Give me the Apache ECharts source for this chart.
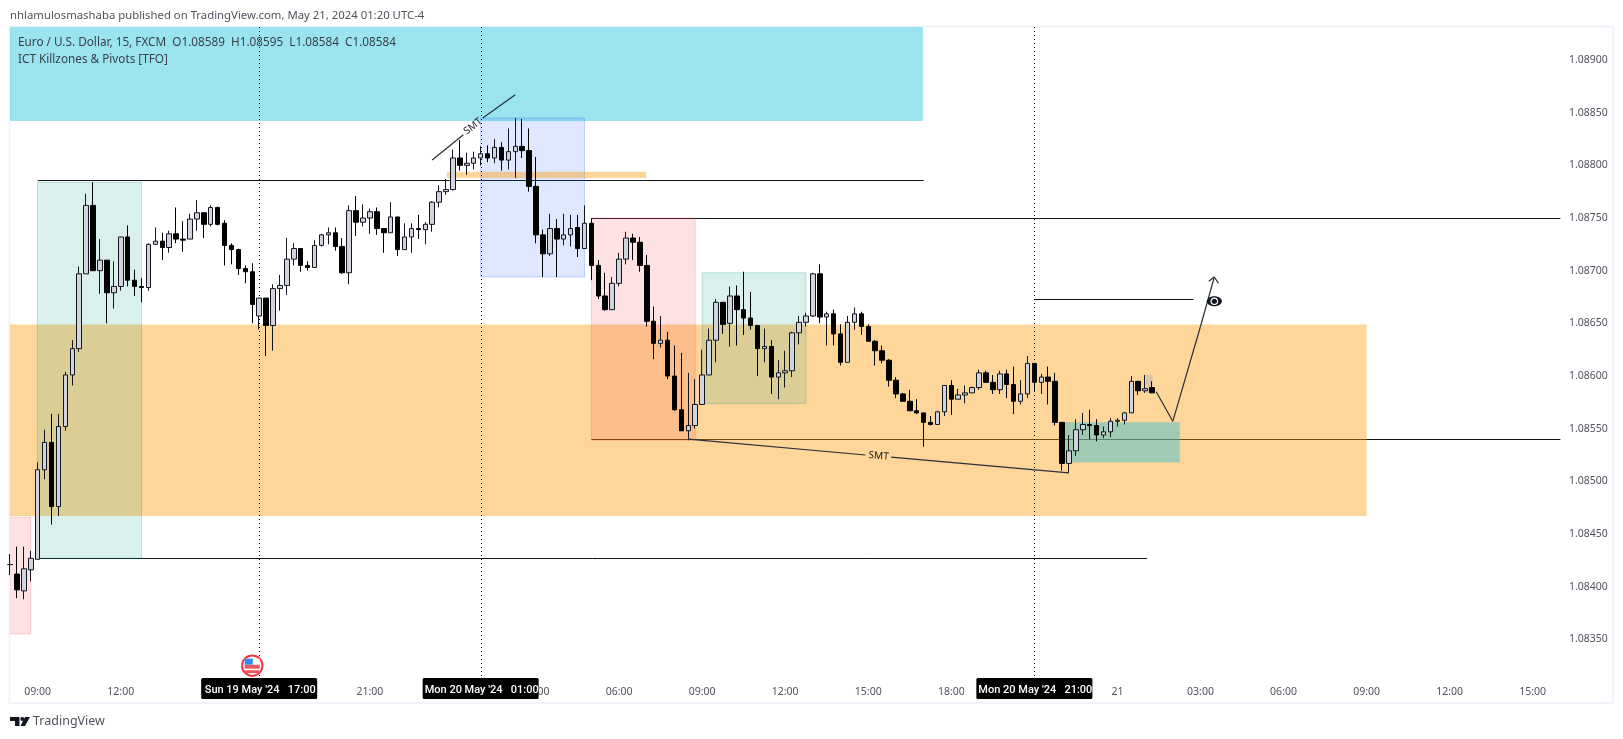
<!DOCTYPE html>
<html><head><meta charset="utf-8">
<style>html,body{margin:0;padding:0;background:#fff}#c{width:1623px;height:739px}</style>
<script src="https://cdn.jsdelivr.net/npm/echarts@6/dist/echarts.min.js"></script>
</head><body><div id="c"></div>
<script>
const FONT = '"Noto Sans", sans-serif';
const firstIndex = -4; // candle index; 0 = Fri 09:00, one step = 15 minutes
const opens = [1.08421,1.08412,1.08396,1.08416,1.08426,1.08511,1.08537,1.08476,1.08552,1.08601,1.08626,1.08697,1.08762,1.08700,1.08710,1.08679,1.08685,1.08732,1.08691,1.08685,1.08684,1.08725,1.08728,1.08722,1.08735,1.08730,1.08730,1.08749,1.08755,1.08744,1.08760,1.08745,1.08724,1.08720,1.08702,1.08699,1.08657,1.08674,1.08648,1.08683,1.08686,1.08711,1.08721,1.08705,1.08703,1.08724,1.08734,1.08736,1.08723,1.08698,1.08757,1.08746,1.08750,1.08756,1.08740,1.08736,1.08751,1.08720,1.08732,1.08740,1.08739,1.08744,1.08765,1.08775,1.08777,1.08807,1.08800,1.08802,1.08807,1.08811,1.08807,1.08817,1.08805,1.08813,1.08818,1.08814,1.08780,1.08734,1.08716,1.08740,1.08730,1.08734,1.08741,1.08721,1.08745,1.08705,1.08676,1.08663,1.08688,1.08711,1.08731,1.08727,1.08705,1.08652,1.08631,1.08634,1.08600,1.08568,1.08548,1.08553,1.08573,1.08601,1.08634,1.08670,1.08650,1.08676,1.08663,1.08655,1.08648,1.08626,1.08628,1.08599,1.08603,1.08605,1.08641,1.08651,1.08657,1.08697,1.08656,1.08659,1.08640,1.08613,1.08651,1.08659,1.08647,1.08633,1.08624,1.08615,1.08596,1.08583,1.08576,1.08567,1.08565,1.08556,1.08554,1.08566,1.08591,1.08578,1.08582,1.08584,1.08589,1.08603,1.08594,1.08587,1.08602,1.08592,1.08576,1.08583,1.08612,1.08594,1.08599,1.08595,1.08556,1.08517,1.08529,1.08549,1.08554,1.08553,1.08544,1.08547,1.08557,1.08558,1.08565,1.08595,1.08586,1.08589];
const highs = [1.08431,1.08438,1.08438,1.08434,1.08518,1.08549,1.08564,1.08564,1.08604,1.08634,1.08704,1.08773,1.08784,1.08730,1.08710,1.08709,1.08732,1.08743,1.08701,1.08693,1.08726,1.08741,1.08736,1.08738,1.08760,1.08747,1.08754,1.08767,1.08755,1.08762,1.08761,1.08748,1.08726,1.08721,1.08705,1.08707,1.08674,1.08674,1.08687,1.08696,1.08731,1.08726,1.08721,1.08709,1.08729,1.08735,1.08741,1.08741,1.08731,1.08762,1.08771,1.08763,1.08759,1.08760,1.08740,1.08765,1.08751,1.08745,1.08745,1.08753,1.08746,1.08766,1.08781,1.08787,1.08815,1.08824,1.08812,1.08813,1.08818,1.08819,1.08825,1.08822,1.08835,1.08845,1.08844,1.08835,1.08808,1.08739,1.08754,1.08749,1.08754,1.08753,1.08753,1.08762,1.08750,1.08710,1.08698,1.08694,1.08717,1.08737,1.08735,1.08732,1.08715,1.08666,1.08657,1.08642,1.08629,1.08622,1.08603,1.08597,1.08625,1.08645,1.08673,1.08670,1.08685,1.08686,1.08699,1.08680,1.08648,1.08645,1.08634,1.08615,1.08624,1.08642,1.08657,1.08660,1.08698,1.08706,1.08661,1.08663,1.08649,1.08657,1.08665,1.08661,1.08649,1.08634,1.08629,1.08616,1.08599,1.08584,1.08587,1.08578,1.08565,1.08562,1.08567,1.08591,1.08596,1.08588,1.08591,1.08590,1.08606,1.08605,1.08601,1.08605,1.08606,1.08609,1.08596,1.08619,1.08612,1.08602,1.08609,1.08603,1.08556,1.08544,1.08559,1.08565,1.08568,1.08559,1.08552,1.08560,1.08560,1.08566,1.08600,1.08595,1.08601,1.08595];
const lows = [1.08411,1.08389,1.08388,1.08405,1.08426,1.08502,1.08459,1.08467,1.08548,1.08591,1.08623,1.08697,1.08700,1.08678,1.08650,1.08664,1.08681,1.08685,1.08676,1.08670,1.08681,1.08725,1.08710,1.08717,1.08726,1.08718,1.08730,1.08738,1.08731,1.08742,1.08743,1.08705,1.08706,1.08696,1.08688,1.08650,1.08644,1.08619,1.08624,1.08662,1.08677,1.08705,1.08699,1.08700,1.08703,1.08723,1.08725,1.08719,1.08697,1.08687,1.08733,1.08742,1.08735,1.08734,1.08717,1.08736,1.08714,1.08720,1.08717,1.08730,1.08725,1.08737,1.08760,1.08772,1.08776,1.08795,1.08791,1.08796,1.08800,1.08803,1.08802,1.08795,1.08796,1.08788,1.08807,1.08775,1.08726,1.08694,1.08714,1.08694,1.08724,1.08723,1.08713,1.08721,1.08691,1.08673,1.08662,1.08663,1.08685,1.08706,1.08710,1.08699,1.08647,1.08616,1.08627,1.08597,1.08567,1.08548,1.08539,1.08550,1.08573,1.08601,1.08613,1.08640,1.08628,1.08629,1.08639,1.08644,1.08600,1.08613,1.08583,1.08578,1.08589,1.08599,1.08630,1.08647,1.08656,1.08650,1.08629,1.08629,1.08610,1.08613,1.08644,1.08639,1.08633,1.08610,1.08612,1.08590,1.08579,1.08576,1.08567,1.08564,1.08533,1.08553,1.08554,1.08562,1.08563,1.08578,1.08574,1.08584,1.08587,1.08594,1.08583,1.08583,1.08579,1.08564,1.08573,1.08579,1.08586,1.08583,1.08573,1.08553,1.08510,1.08508,1.08524,1.08544,1.08540,1.08538,1.08541,1.08542,1.08552,1.08554,1.08565,1.08582,1.08584,1.08584];
const closes = [1.08421,1.08397,1.08417,1.08427,1.08511,1.08537,1.08476,1.08552,1.08601,1.08626,1.08697,1.08762,1.08700,1.08710,1.08679,1.08685,1.08732,1.08691,1.08685,1.08684,1.08725,1.08728,1.08722,1.08735,1.08730,1.08729,1.08749,1.08755,1.08744,1.08760,1.08744,1.08724,1.08720,1.08702,1.08699,1.08668,1.08674,1.08648,1.08683,1.08686,1.08711,1.08721,1.08705,1.08703,1.08724,1.08734,1.08736,1.08723,1.08698,1.08757,1.08746,1.08750,1.08756,1.08740,1.08736,1.08751,1.08720,1.08732,1.08740,1.08739,1.08744,1.08765,1.08775,1.08777,1.08807,1.08800,1.08802,1.08807,1.08811,1.08807,1.08817,1.08805,1.08813,1.08818,1.08814,1.08780,1.08734,1.08716,1.08740,1.08730,1.08734,1.08740,1.08721,1.08745,1.08705,1.08676,1.08663,1.08688,1.08711,1.08731,1.08727,1.08705,1.08652,1.08631,1.08634,1.08600,1.08568,1.08548,1.08553,1.08573,1.08601,1.08634,1.08670,1.08649,1.08676,1.08663,1.08655,1.08648,1.08626,1.08628,1.08599,1.08603,1.08605,1.08641,1.08651,1.08657,1.08697,1.08656,1.08659,1.08640,1.08613,1.08651,1.08659,1.08647,1.08633,1.08624,1.08615,1.08596,1.08583,1.08576,1.08567,1.08565,1.08556,1.08554,1.08566,1.08591,1.08578,1.08582,1.08584,1.08589,1.08603,1.08594,1.08587,1.08602,1.08592,1.08576,1.08583,1.08612,1.08594,1.08599,1.08595,1.08556,1.08517,1.08529,1.08549,1.08554,1.08553,1.08544,1.08547,1.08557,1.08558,1.08565,1.08595,1.08586,1.08588,1.08584];

const priceTicks = [1.0890,1.0885,1.0880,1.0875,1.0870,1.0865,1.0860,1.0855,1.0850,1.0845,1.0840,1.0835];
const timeTickIndex = [0,12,48,72,84,96,108,120,132,156,168,180,192,204,216];
const timeTickLabel = ['09:00','12:00','21:00','03:00','06:00','09:00','12:00','15:00','18:00','21','03:00','06:00','09:00','12:00','15:00'];
const cursorIndex = [32,64,144];
const cursorLabel = ["Sun 19 May '24   17:00","Mon 20 May '24   01:00","Mon 20 May '24   21:00"];

// [start index, top price, end index, bottom price]
const zones = [
  [-6,1.08935,127.9,1.08842],[-6,1.08649,192,1.08467],[-0.05,1.08784,15,1.08427],[-6,1.08466,-1,1.08355],
  [64,1.08845,79,1.08694],[80,1.08750,95,1.08539],[96,1.08698,111,1.08574],[148,1.08556,165,1.08518],
  [59.1,1.08794,87.9,1.08788],[160.1,1.08601,161.1,1.08584]
];
const zoneFill = ['rgba(0,188,212,.4)','rgba(255,152,0,.4)','rgba(8,153,129,.15)','rgba(242,54,69,.15)','rgba(41,98,255,.15)','rgba(242,54,69,.15)','rgba(8,153,129,.15)','rgba(65,192,203,.5)','rgba(255,152,0,.4)','rgba(178,181,190,.45)'];
const zoneStroke = ['none','none','rgba(8,153,129,.25)','rgba(242,54,69,.2)','rgba(41,98,255,.25)','rgba(242,54,69,.2)','rgba(8,153,129,.25)','none','none','none'];

// [index, price, index, price]
const levels = [
  [0,1.08786,128,1.08786],[80,1.08750,220,1.08750],[80,1.08540,220,1.08540],[0,1.08427,160.3,1.08427],[144,1.08673,167,1.08673]
];
const drawings = [
  [57,1.08805,61.5,1.08829],[64.3,1.08845,69,1.08867],
  [94,1.08540,119.6,1.08525],[123.3,1.08523,149,1.08508],
  [161.6,1.08585,164,1.08557],[164,1.08557,168,1.08647],[168,1.08647,170,1.08694],[169.2,1.08690,170,1.08694],[170,1.08694,170.6,1.08688]
];
const smtLabels = [[62.9,1.08837,0.66],[121.5,1.08524,-0.085]];
const eyeAt = [170,1.08671];
const flagAt = [31,1.08325];

const byIndex = (v, k) => [firstIndex + k, v, closes[k], lows[k], highs[k]];
const candleData = opens.map(byIndex);

const rectOf = (api) => {
  const a = api.coord([api.value(0), api.value(1)]), b = api.coord([api.value(2), api.value(3)]);
  return {x:a[0], y:a[1], width:b[0]-a[0], height:b[1]-a[1]};
};

const option = {
  animation:false,
  backgroundColor:'#fff',
  grid:{left:10.5,top:27,width:1557.5,height:651,containLabel:false},
  tooltip:{show:false},
  xAxis:{type:'value',min:-3.93,max:221.1,
    axisLine:{show:false},axisTick:{show:false},splitLine:{show:false},
    axisLabel:{customValues:timeTickIndex,color:'#50535e',fontFamily:FONT,fontSize:10.5,margin:9,hideOverlap:false,
      formatter:v=>timeTickLabel[timeTickIndex.indexOf(v)]||''}},
  yAxis:{type:'value',position:'right',min:1.0831331,max:1.0893134,
    axisLine:{show:false},axisTick:{show:false},splitLine:{show:false},
    axisLabel:{customValues:priceTicks,color:'#50535e',fontFamily:FONT,fontSize:10.5,margin:1,padding:[2,0,0,0],
      formatter:v=>v.toFixed(5)}},
  series:[
    {type:'custom',name:'levels',z:1,clip:true,data:levels,encode:{x:[0,2],y:[1,3]},silent:true,
     renderItem:(p,api)=>{const a=api.coord([api.value(0),api.value(1)]),b=api.coord([api.value(2),api.value(3)]);
       const y=Math.round(a[1])+0.5;
       return {type:'line',shape:{x1:a[0],y1:y,x2:b[0],y2:y},style:{stroke:'#131722',lineWidth:1,fill:null}};}},
    {type:'custom',name:'zones',z:2,clip:true,data:zones,encode:{x:[0,2],y:[1,3]},silent:true,
     renderItem:(p,api)=>({type:'rect',shape:rectOf(api),style:{fill:zoneFill[p.dataIndex],stroke:zoneStroke[p.dataIndex]==='none'?null:zoneStroke[p.dataIndex],lineWidth:1}})},
    {type:'custom',name:'cursors',z:3,clip:true,data:cursorIndex.map(i=>[i]),encode:{x:0},silent:true,
     renderItem:(p,api)=>{const x=Math.round(api.coord([api.value(0),1.086])[0])+0.5;
       return {type:'line',shape:{x1:x,y1:27,x2:x,y2:676},style:{stroke:'#000',lineWidth:1,lineDash:[1,3],fill:null}};}},
    {type:'candlestick',name:'EURUSD',z:4,clip:true,barWidth:5,data:candleData,silent:true,
     itemStyle:{color:'#d1d4dc',color0:'#000000',borderColor:'#131722',borderColor0:'#000000',borderWidth:1}},
    {type:'custom',name:'drawings',z:5,clip:true,data:drawings,encode:{x:[0,2],y:[1,3]},silent:true,
     renderItem:(p,api)=>{const a=api.coord([api.value(0),api.value(1)]),b=api.coord([api.value(2),api.value(3)]);
       return {type:'line',shape:{x1:a[0],y1:a[1],x2:b[0],y2:b[1]},style:{stroke:'#2a2e39',lineWidth:1.2,fill:null}};}},
    {type:'custom',name:'smt',z:5,clip:false,data:smtLabels,encode:{x:0,y:1},silent:true,
     renderItem:(p,api)=>{const a=api.coord([api.value(0),api.value(1)]);
       return {type:'text',x:a[0],y:a[1],rotation:api.value(2),style:{text:'SMT',x:0,y:0,align:'center',verticalAlign:'middle',fontFamily:FONT,fontSize:10,fill:'#131722'}};}},
    {type:'custom',name:'eye',z:6,clip:false,data:[eyeAt],encode:{x:0,y:1},silent:true,
     renderItem:(p,api)=>{const a=api.coord([api.value(0),api.value(1)]);
       return {type:'group',x:a[0],y:a[1],children:[
         {type:'ellipse',shape:{cx:0,cy:0,rx:7.5,ry:5},style:{fill:'#131722'}},
         {type:'circle',shape:{cx:0,cy:0,r:3.8},style:{fill:'#fff'}},
         {type:'circle',shape:{cx:0,cy:0,r:2.6},style:{fill:'#131722'}}]};}},
    {type:'custom',name:'flag',z:6,clip:false,data:[flagAt],encode:{x:0,y:1},silent:true,
     renderItem:(p,api)=>{const a=api.coord([api.value(0),api.value(1)]);
       return {type:'group',x:a[0],y:a[1],children:[
         {type:'circle',shape:{cx:0,cy:0,r:10.2},style:{fill:'#fff',stroke:'#f23645',lineWidth:2}},
         {type:'rect',shape:{x:-7.5,y:-7,width:15,height:4},style:{fill:'#f6f6f6'}},
         {type:'rect',shape:{x:-7.5,y:-1,width:15,height:4},style:{fill:'#f0565f'}},
         {type:'rect',shape:{x:-7,y:4.5,width:14,height:3},style:{fill:'#f0565f'}},
         {type:'rect',shape:{x:-7.5,y:-7,width:8,height:6},style:{fill:'#2f8cf0'}}]};}},
    {type:'custom',name:'cursorBoxes',z:7,clip:false,data:cursorIndex.map(i=>[i]),encode:{x:0},silent:true,
     renderItem:(p,api)=>{const x=api.coord([api.value(0),1.086])[0];
       return {type:'group',x:x,y:688.5,children:[
         {type:'rect',shape:{x:-58,y:-10.5,width:116,height:21,r:1.5},style:{fill:'#000'}},
         {type:'text',style:{text:cursorLabel[p.dataIndex],x:1,y:1.5,align:'center',verticalAlign:'middle',fontFamily:'Roboto, sans-serif',fontWeight:500,fontSize:11,fill:'#fff'}}]};}}
  ],
  graphic:[
    {type:'rect',silent:true,z:0,shape:{x:9.5,y:26.5,width:1603.5,height:676.5},style:{fill:null,stroke:'#f0f3fa',lineWidth:2}},
    {type:'text',silent:true,style:{text:'nhlamulosmashaba published on TradingView.com, May 21, 2024 01:20 UTC-4',x:10,y:15.5,verticalAlign:'middle',fontFamily:FONT,fontSize:11.35,fill:'#50535e'}},
    {type:'text',silent:true,z:20,style:{text:'Euro / U.S. Dollar, 15, FXCM  O1.08589  H1.08595  L1.08584  C1.08584',x:18,y:42.5,verticalAlign:'middle',fontFamily:FONT,fontSize:11.75,fill:'#3c3f4a'}},
    {type:'text',silent:true,z:20,style:{text:'ICT Killzones & Pivots [TFO]',x:18,y:60,verticalAlign:'middle',fontFamily:FONT,fontSize:11.75,fill:'#3c3f4a'}},
    {type:'text',silent:true,style:{text:'TradingView',x:33,y:721,verticalAlign:'middle',fontFamily:FONT,fontSize:12.5,fill:'#50535e'}},
    {type:'polygon',silent:true,shape:{points:[[10,717],[19.5,717],[19.5,726],[15,726],[15,721],[10,721]]},style:{fill:'#131722'}},
    {type:'circle',silent:true,shape:{cx:22.3,cy:719,r:2},style:{fill:'#131722'}},
    {type:'polygon',silent:true,shape:{points:[[25,717],[30,717],[25,726],[20.5,726]]},style:{fill:'#131722'}}
  ]
};
const chart = echarts.init(document.getElementById('c'),null,{renderer:'canvas',width:1623,height:739});
chart.setOption(option);
</script></body></html>
